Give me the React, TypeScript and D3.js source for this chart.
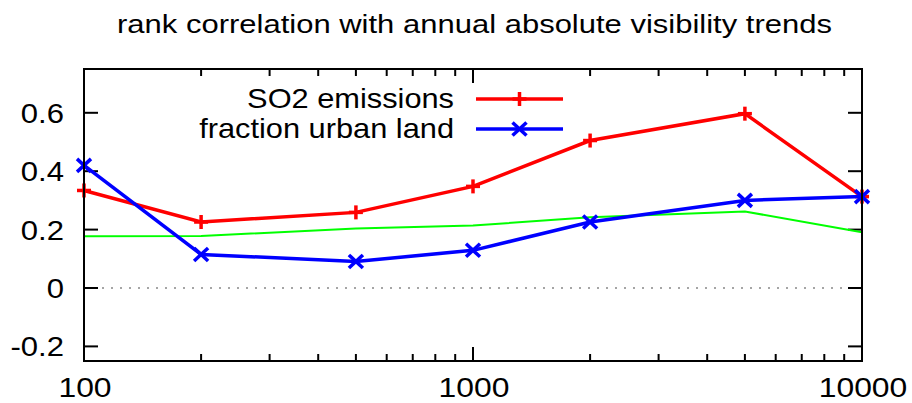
import React from "react";
import * as d3 from "d3";

const title = "rank correlation with annual absolute visibility trends";
const xValues = [100, 200, 500, 1000, 2000, 5000, 10000];
const so2 = [0.334, 0.226, 0.259, 0.348, 0.505, 0.597, 0.313];
const urban = [0.42, 0.115, 0.091, 0.129, 0.226, 0.3, 0.313];
const baseline = [0.177, 0.178, 0.204, 0.214, 0.242, 0.262, 0.191];
const yTicks = [-0.2, 0, 0.2, 0.4, 0.6];
const xMajor = [100, 1000, 10000];
const seriesNames = ["SO2 emissions", "fraction urban land"];

const W = 912, H = 403;
const L = 84, R = 862, T = 69, B = 361;
const FONT = "'Liberation Sans', Arial, sans-serif";

function T2(props: { x: number; y: number; size: number; sx: number; anchor: string; children: any }) {
  return (
    <text
      transform={`translate(${props.x},${props.y}) scale(${props.sx},1)`}
      fontSize={props.size}
      textAnchor={props.anchor}
    >
      {props.children}
    </text>
  );
}

export default function App() {
  const x = d3.scaleLog().domain([100, 10000]).range([L, R]);
  const y = d3.scaleLinear().domain([-0.25, 0.75]).range([B, T]);
  const line = (vals: number[]) =>
    d3.line<number>().x((_, i) => x(xValues[i])).y((v) => y(v))(vals) || "";
  const minor: number[] = [];
  for (let d = 100; d < 10000; d *= 10) for (let k = 2; k <= 9; k++) minor.push(d * k);

  const plus = (cx: number, cy: number, c: string, k: string) => (
    <g key={k} stroke={c} strokeWidth={3.5}>
      <line x1={cx - 7} x2={cx + 7} y1={cy} y2={cy} />
      <line x1={cx} x2={cx} y1={cy - 7} y2={cy + 7} />
    </g>
  );
  const cross = (cx: number, cy: number, c: string, k: string) => (
    <g key={k} stroke={c} strokeWidth={3.5}>
      <line x1={cx - 7} x2={cx + 7} y1={cy - 6.5} y2={cy + 6.5} />
      <line x1={cx - 7} x2={cx + 7} y1={cy + 6.5} y2={cy - 6.5} />
    </g>
  );

  return (
    <svg width={W} height={H} style={{ position: "absolute", left: 0, top: 0 }} fontFamily={FONT}>
      <rect width={W} height={H} fill="white" />
      <T2 x={(L + R) / 2 + 1.5} y={32.5} size={25} sx={1.24} anchor="middle">{title}</T2>
      <line x1={L} x2={R} y1={y(0)} y2={y(0)} stroke="#888" strokeWidth={1.5} strokeDasharray="2,7" />
      {yTicks.map((t) => (
        <g key={"y" + t}>
          <line x1={L} x2={L + 14} y1={y(t)} y2={y(t)} stroke="black" strokeWidth={2} />
          <line x1={R} x2={R - 14} y1={y(t)} y2={y(t)} stroke="black" strokeWidth={2} />
          <T2 x={64} y={y(t) + 10} size={27} sx={1.15} anchor="end">{t === 0 ? "0" : t.toFixed(1)}</T2>
        </g>
      ))}
      {xMajor.map((t) => (
        <g key={"x" + t}>
          <line x1={x(t)} x2={x(t)} y1={B} y2={B - 14} stroke="black" strokeWidth={2} />
          <line x1={x(t)} x2={x(t)} y1={T} y2={T + 14} stroke="black" strokeWidth={2} />
          <T2 x={x(t) + 1} y={397} size={27} sx={1.18} anchor="middle">{String(t)}</T2>
        </g>
      ))}
      {minor.map((t) => (
        <g key={"m" + t}>
          <line x1={x(t)} x2={x(t)} y1={B} y2={B - 7} stroke="black" strokeWidth={2} />
          <line x1={x(t)} x2={x(t)} y1={T} y2={T + 7} stroke="black" strokeWidth={2} />
        </g>
      ))}
      <path d={line(baseline)} fill="none" stroke="#00ff00" strokeWidth={2} />
      <path d={line(so2)} fill="none" stroke="#ff0000" strokeWidth={3.5} />
      {so2.map((v, i) => plus(x(xValues[i]), y(v), "#ff0000", "p" + i))}
      <path d={line(urban)} fill="none" stroke="#0000ff" strokeWidth={3.5} />
      {urban.map((v, i) => cross(x(xValues[i]), y(v), "#0000ff", "c" + i))}
      <rect x={L} y={T} width={R - L} height={B - T} fill="none" stroke="black" strokeWidth={2} />
      <T2 x={454} y={107.5} size={27} sx={1.14} anchor="end">{seriesNames[0]}</T2>
      <line x1={476} x2={563} y1={99} y2={99} stroke="#ff0000" strokeWidth={3.5} />
      {plus(519.5, 99, "#ff0000", "lp")}
      <T2 x={454} y={137.5} size={27} sx={1.14} anchor="end">{seriesNames[1]}</T2>
      <line x1={476} x2={563} y1={129} y2={129} stroke="#0000ff" strokeWidth={3.5} />
      {cross(519.5, 129, "#0000ff", "lc")}
    </svg>
  );
}
